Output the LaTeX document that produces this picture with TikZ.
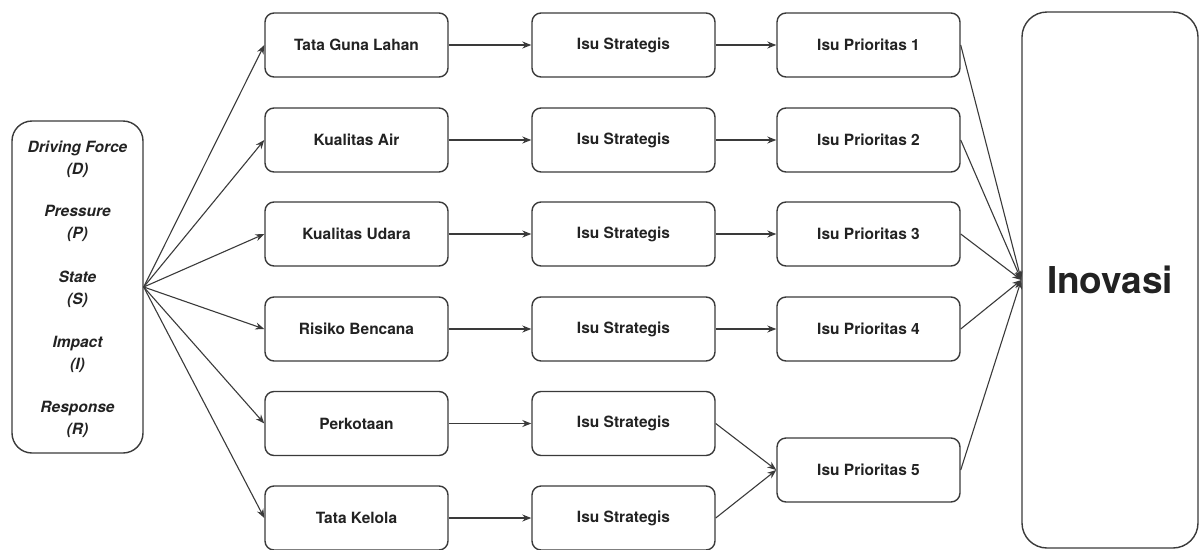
\documentclass[tikz,border=0pt]{standalone}
\usepackage{fontspec}
\setmainfont{TeX Gyre Heros}
\usetikzlibrary{arrows.meta}
\definecolor{ln}{HTML}{3A3A3A}
\definecolor{tx}{HTML}{222222}
\begin{document}
\begin{tikzpicture}[x=1pt,y=-1pt,
  box/.style={draw=ln,line width=1.4pt,rounded corners=9pt,minimum width=183pt,minimum height=64pt,inner sep=0pt,text=tx,font=\fontsize{15.5}{18}\selectfont\bfseries},
  term/.style={align=center,text=tx,font=\fontsize{15.5}{22}\selectfont\bfseries\itshape},
  arr/.style={draw=ln,line width=1.1pt,-{Stealth[length=9pt,width=7pt]}}]
\useasboundingbox (0,0) rectangle (1201,549);
\node[draw=ln,line width=1.4pt,rounded corners=20pt,minimum width=131pt,minimum height=332pt] (dpsir) at (77.5,287) {};
\node[term] (d1) at (77.5,159) {Driving Force\\(D)};
\node[term] (d2) at (77.5,223) {Pressure\\(P)};
\node[term] (d3) at (77.5,289) {State\\(S)};
\node[term] (d4) at (77.5,354) {Impact\\(I)};
\node[term] (d5) at (77.5,419) {Response\\(R)};
% column 1
\node[box] (a1) at (356.5,45) {Tata Guna Lahan};
\node[box] (a2) at (356.5,140) {Kualitas Air};
\node[box] (a3) at (356.5,234) {Kualitas Udara};
\node[box] (a4) at (356.5,329) {Risiko Bencana};
\node[box] (a5) at (356.5,423.5) {Perkotaan};
\node[box] (a6) at (356.5,518) {Tata Kelola};
% column 2
\foreach \i/\y in {1/45,2/140,3/234,4/329,5/423.5,6/518}
  \node[box] (b\i) at (623.5,\y) {Isu Strategis};
% column 3
\node[box] (c1) at (868.5,45) {Isu Prioritas 1};
\node[box] (c2) at (868.5,140) {Isu Prioritas 2};
\node[box] (c3) at (868.5,234) {Isu Prioritas 3};
\node[box] (c4) at (868.5,329) {Isu Prioritas 4};
\node[box] (c5) at (868.5,470) {Isu Prioritas 5};
% Inovasi
\node[draw=ln,line width=1.4pt,rounded corners=25pt,minimum width=176pt,minimum height=536pt,text=tx,font=\fontsize{37}{42}\selectfont\bfseries] (ino) at (1110,280) {Inovasi};
% arrows
\foreach \i in {1,...,6} {
  \draw[arr] (dpsir.east) -- (a\i.west);
  \draw[arr] (a\i.east) -- (b\i.west);
}
\foreach \i in {1,...,4} {
  \draw[arr] (b\i.east) -- (c\i.west);
}
\draw[arr] (b5.east) -- (c5.west);
\draw[arr] (b6.east) -- (c5.west);
\foreach \i in {1,...,5} {
  \draw[arr] (c\i.east) -- (ino.west);
}
\end{tikzpicture}
\end{document}
